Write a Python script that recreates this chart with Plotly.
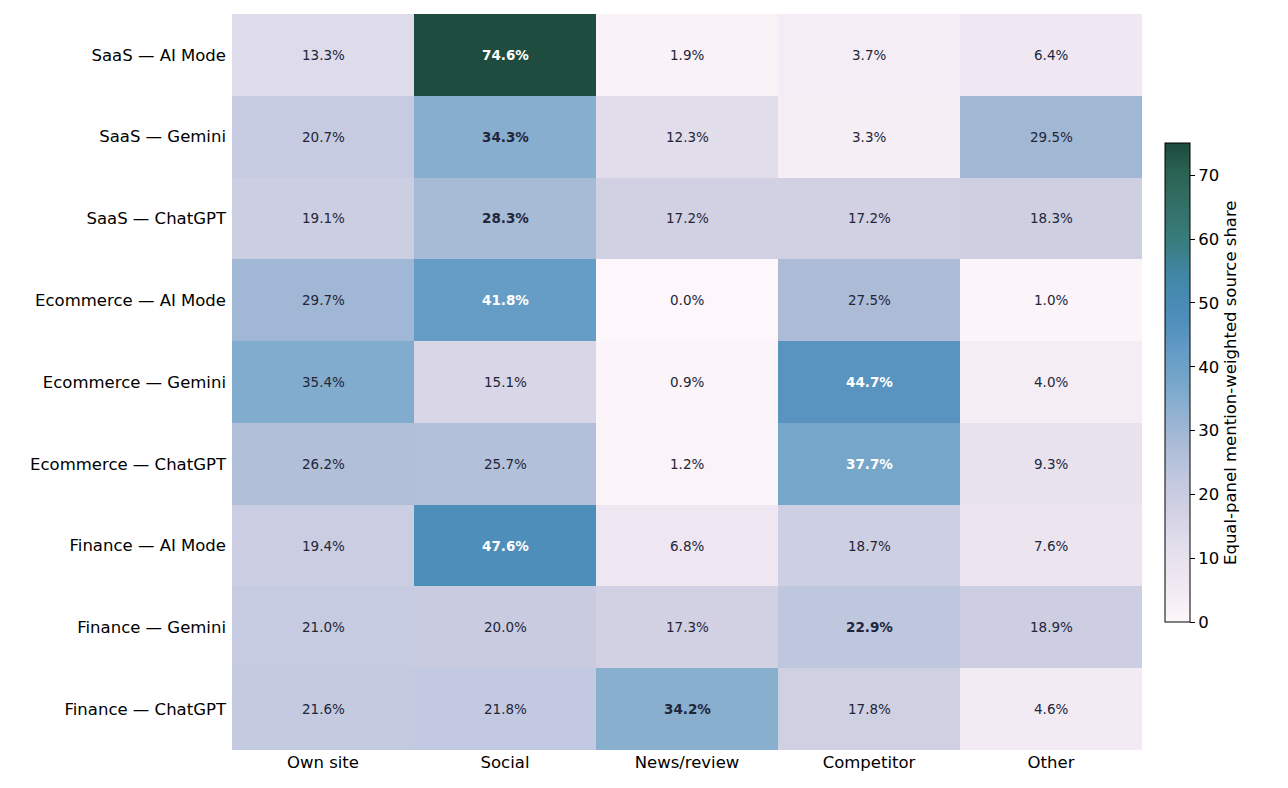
import plotly.graph_objects as go

fuentes = ["Own site", "Social", "News/review", "Competitor", "Other"]
paneles = [
    "SaaS — AI Mode", "SaaS — Gemini", "SaaS — ChatGPT",
    "Ecommerce — AI Mode", "Ecommerce — Gemini", "Ecommerce — ChatGPT",
    "Finance — AI Mode", "Finance — Gemini", "Finance — ChatGPT",
]

saas_ai_mode = [13.3, 74.6, 1.9, 3.7, 6.4]
saas_gemini = [20.7, 34.3, 12.3, 3.3, 29.5]
saas_chatgpt = [19.1, 28.3, 17.2, 17.2, 18.3]
ecom_ai_mode = [29.7, 41.8, 0.0, 27.5, 1.0]
ecom_gemini = [35.4, 15.1, 0.9, 44.7, 4.0]
ecom_chatgpt = [26.2, 25.7, 1.2, 37.7, 9.3]
fin_ai_mode = [19.4, 47.6, 6.8, 18.7, 7.6]
fin_gemini = [21.0, 20.0, 17.3, 22.9, 18.9]
fin_chatgpt = [21.6, 21.8, 34.2, 17.8, 4.6]

valores = [saas_ai_mode, saas_gemini, saas_chatgpt,
           ecom_ai_mode, ecom_gemini, ecom_chatgpt,
           fin_ai_mode, fin_gemini, fin_chatgpt]

# tope de la escala redondeado hacia arriba
vmax = 75

# escala aproximada a PuBuGn como sale en la imagen
escala = [
    [0.0, "#fdf6fa"],
    [0.085, "#efe7f1"],
    [0.178, "#dedbea"],
    [0.231, "#d2d1e3"],
    [0.292, "#c3c9e0"],
    [0.369, "#abbcd7"],
    [0.46, "#87aecf"],
    [0.505, "#75a6c9"],
    [0.56, "#659dc6"],
    [0.6, "#5893bf"],
    [0.638, "#4d8ebb"],
    [0.72, "#4287a8"],
    [0.804, "#387c7a"],
    [0.94, "#2b6252"],
    [1.0, "#1d4a3c"],
]

fig = go.Figure(go.Heatmap(
    z=valores, x=fuentes, y=paneles,
    zmin=0, zmax=vmax, colorscale=escala,
    hoverongaps=False,
    colorbar=dict(
        x=1.014, xanchor="left", y=0.499, yanchor="middle",
        len=0.678, thickness=25,
        outlinecolor="black", outlinewidth=1,
        ticks="outside", ticklen=5, tickcolor="black",
        tickvals=[0, 10, 20, 30, 40, 50, 60, 70],
        tickfont=dict(size=16.5, color="black"),
        title=dict(text="Equal-panel mention-weighted source share",
                   side="right", font=dict(size=16.5, color="black")),
    ),
))

anotaciones = []
for i, fila in enumerate(valores):
    maximo = max(fila)
    for j, v in enumerate(fila):
        texto = f"{v:.1f}%"
        if v == maximo:
            texto = f"<b>{texto}</b>"
        anotaciones.append(dict(
            x=fuentes[j], y=paneles[i], text=texto, showarrow=False,
            font=dict(size=13.5, color="white" if v > 36 else "#22263a"),
        ))

fig.update_layout(
    width=1288, height=788,
    margin=dict(l=224, r=154, t=6, b=46),
    paper_bgcolor="white", plot_bgcolor="white",
    font=dict(family="DejaVu Sans", color="black"),
    annotations=anotaciones,
)
fig.update_xaxes(showgrid=False, zeroline=False, ticks="",
                 tickfont=dict(size=16.5, color="black"))
fig.update_yaxes(showgrid=False, zeroline=False, ticks="", autorange="reversed",
                 tickfont=dict(size=16.5, color="black"), ticklabelstandoff=5)

fig.write_html("out.html")
